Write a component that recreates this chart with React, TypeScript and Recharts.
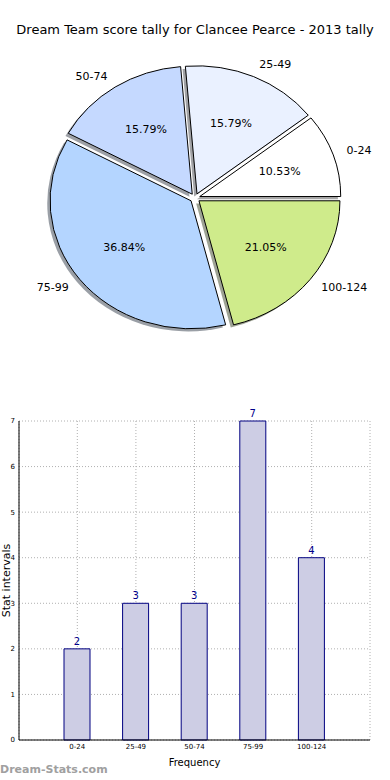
import React from 'react';
import {
  PieChart, Pie, Sector, BarChart, Bar, XAxis, YAxis, CartesianGrid, LabelList,
} from 'recharts';

const ranges = ['0-24', '25-49', '50-74', '75-99', '100-124'];
const counts = [2, 3, 3, 7, 4];
const sliceColors = ['#ffffff', '#eaf1ff', '#c5d9ff', '#b4d5ff', '#cfeb8b'];
const yTicks = [0, 1, 2, 3, 4, 5, 6, 7];

const data = ranges.map((range, i) => ({ range, count: counts[i] }));

const RAD = Math.PI / 180;
const EXPLODE = 5;
const SQUASH = 128 / 141;
const FONT = '"DejaVu Sans", sans-serif';

const shadowOf = (hex: string) => {
  const n = parseInt(hex.slice(1), 16);
  const c = [(n >> 16) & 255, (n >> 8) & 255, n & 255].map((v) => Math.round(v * 0.3));
  return `rgb(${c.join(',')})`;
};

const renderSlice = (shadow: boolean) => (p: any) => {
  const { cx, cy, midAngle, outerRadius, startAngle, endAngle, index, percent, name } = p;
  const c = Math.cos(-midAngle * RAD);
  const s = Math.sin(-midAngle * RAD);
  let ox = cx + EXPLODE * c;
  let oy = cy + EXPLODE * SQUASH * s;
  const color = sliceColors[index % sliceColors.length];
  if (shadow) {
    ox -= 2.8;
    oy += 2.6;
    return (
      <g transform={`translate(${ox},${oy}) scale(1,${SQUASH}) translate(${-cx},${-cy})`}>
        <Sector cx={cx} cy={cy} innerRadius={0} outerRadius={outerRadius}
          startAngle={startAngle} endAngle={endAngle}
          fill={shadowOf(color)} fillOpacity={0.5} stroke="none" />
      </g>
    );
  }
  const lr = outerRadius * 1.1;
  const pr = outerRadius * 0.6;
  return (
    <g>
      <g transform={`translate(${ox},${oy}) scale(1,${SQUASH}) translate(${-cx},${-cy})`}>
        <Sector cx={cx} cy={cy} innerRadius={0} outerRadius={outerRadius}
          startAngle={startAngle} endAngle={endAngle}
          fill={color} stroke="#000" strokeWidth={1} vectorEffect="non-scaling-stroke" />
      </g>
      <text x={ox + lr * c} y={oy + lr * SQUASH * s} textAnchor={c >= 0 ? 'start' : 'end'}
        dominantBaseline="central" fontSize={11} fill="#000" fontFamily={FONT}>{name}</text>
      <text x={ox + pr * c} y={oy + pr * SQUASH * s} textAnchor="middle"
        dominantBaseline="central" fontSize={11} fill="#000" fontFamily={FONT}>
        {(percent * 100).toFixed(2)}%
      </text>
    </g>
  );
};

const YTitle = (props: any) => {
  const vb = props.viewBox || { x: 0, y: 421, width: 19, height: 319 };
  const x = vb.x + 6;
  const y = vb.y + vb.height / 2;
  return (
    <text x={x} y={y} transform={`rotate(-90, ${x}, ${y})`} textAnchor="middle"
      dominantBaseline="central" fontSize={11} fill="#000" fontFamily={FONT}>Stat intervals</text>
  );
};

export default function App() {
  return (
    <div style={{ position: 'absolute', left: 0, top: 0, width: 390, height: 780, background: '#fff', fontFamily: FONT }}>
      <div style={{ position: 'absolute', top: 21, left: 0, width: 390, textAlign: 'center', fontSize: 13, color: '#000', whiteSpace: 'nowrap', lineHeight: '18px' }}>
        Dream Team score tally for Clancee Pearce - 2013 tally
      </div>
      <div style={{ position: 'absolute', top: 0, left: 0 }}>
        <PieChart width={390} height={345} margin={{ top: 0, right: 0, bottom: 0, left: 0 }}>
          <Pie data={data} dataKey="count" nameKey="range" cx={195} cy={198} outerRadius={141}
            startAngle={0} endAngle={360} fill="none" stroke="none" labelLine={false}
            label={renderSlice(true)} isAnimationActive={false} />
          <Pie data={data} dataKey="count" nameKey="range" cx={195} cy={198} outerRadius={141}
            startAngle={0} endAngle={360} fill="none" stroke="none" labelLine={false}
            label={renderSlice(false)} isAnimationActive={false} />
        </PieChart>
      </div>
      <div style={{ position: 'absolute', top: 380, left: 0 }}>
        <BarChart width={390} height={400} data={data} margin={{ top: 41, right: 20, bottom: 0, left: 0 }}>
          <CartesianGrid stroke="#b0b0b0" strokeDasharray="1 2" />
          <XAxis dataKey="range" padding={{ left: 29, right: 29 }} height={40}
            tick={{ fontSize: 7, fill: '#000' }} tickSize={0} tickMargin={4}
            axisLine={{ stroke: '#000' }}
            label={{ value: 'Frequency', position: 'insideBottom', offset: 14, fontSize: 10, fill: '#000' }} />
          <XAxis xAxisId="top" dataKey="range" orientation="top" height={0} tick={false}
            tickLine={false} axisLine={{ stroke: '#000' }} />
          <YAxis domain={[0, 7]} ticks={yTicks} width={19} tick={{ fontSize: 7, fill: '#000' }}
            tickSize={0} tickMargin={4} axisLine={{ stroke: '#000' }} allowDecimals={false}
            label={{ content: YTitle }} />
          <YAxis yAxisId="right" orientation="right" domain={[0, 7]} ticks={yTicks} width={0}
            tick={false} mirror tickSize={4} tickLine={{ stroke: '#000' }} axisLine={{ stroke: '#000' }} />
          <Bar dataKey="count" barSize={26} fill="#cdcde4" stroke="#000080" strokeWidth={1}
            isAnimationActive={false}>
            <LabelList dataKey="count" position="top" offset={4} fontSize={10} fill="#00008b" />
          </Bar>
        </BarChart>
      </div>
      <div style={{ position: 'absolute', top: 762, left: 0, fontSize: 11, fontWeight: 'bold', color: '#a0a0a0', whiteSpace: 'nowrap', lineHeight: '16px' }}>
        Dream-Stats.com
      </div>
    </div>
  );
}
